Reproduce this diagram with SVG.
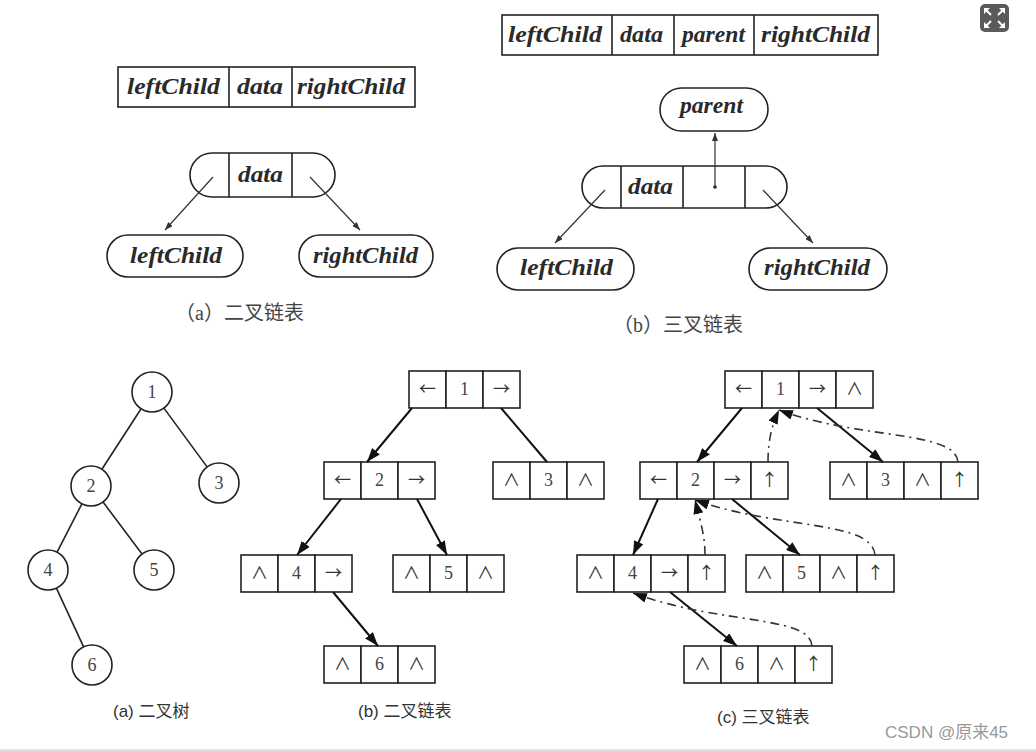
<svg xmlns="http://www.w3.org/2000/svg" width="1036" height="751" viewBox="0 0 1036 751">
<style>
.it{font-family:"Liberation Serif","DejaVu Serif",serif;font-style:italic;font-weight:bold;font-size:24px;fill:#2a2a2a}
.box{fill:#fff;stroke:#222;stroke-width:1.6}
.dv{stroke:#222;stroke-width:1.6}
.thin{stroke:#333;stroke-width:1.2;fill:none}
.sol{stroke:#111;stroke-width:2;fill:none}
.dd{stroke:#333;stroke-width:1.6;fill:none;stroke-dasharray:9 5 2 5}
.cell{fill:#fff;stroke:#222;stroke-width:1.6}
.ct{font-family:"Liberation Serif","DejaVu Serif",serif;font-size:18px;fill:#444;text-anchor:middle}
.ar{font-family:"Noto Sans CJK SC","DejaVu Sans",sans-serif;font-size:17px;fill:#333;text-anchor:middle}
.circ{fill:#fff;stroke:#222;stroke-width:1.6}
.edge{stroke:#222;stroke-width:1.6}
.capt{font-family:"Liberation Serif","Noto Sans CJK SC",serif;font-size:20px;fill:#444}
.capb{font-family:"Liberation Sans","Noto Sans CJK SC",sans-serif;font-size:17px;fill:#333}
</style>
<defs>
<marker id="big" viewBox="0 0 14 10" refX="14" refY="5" markerWidth="14" markerHeight="10" markerUnits="userSpaceOnUse" orient="auto"><path d="M0,0 L14,5 L0,10 z" fill="#111"/></marker>
<marker id="sm" viewBox="0 0 8 6" refX="8" refY="3" markerWidth="8" markerHeight="6" markerUnits="userSpaceOnUse" orient="auto"><path d="M0,0 L8,3 L0,6 z" fill="#333"/></marker>
</defs>
<rect width="1036" height="751" fill="#fff"/>
<rect x="0" y="749" width="1036" height="2" fill="#e4e4e4"/>

<!-- expand icon -->
<g id="icon">
<rect x="980" y="4" width="29" height="28" rx="5" fill="#5a5a5a"/>
<g fill="#fff"><polygon points="984,8 990,8 984,14"/><polygon points="1005,8 999,8 1005,14"/><polygon points="984,28 990,28 984,22"/><polygon points="1005,28 999,28 1005,22"/></g>
<g stroke="#fff" stroke-width="2"><line x1="986" y1="10" x2="991" y2="15"/><line x1="1003" y1="10" x2="998" y2="15"/><line x1="986" y1="26" x2="991" y2="21"/><line x1="1003" y1="26" x2="998" y2="21"/></g>
</g>

<!-- top-left (a) -->
<g id="tableA">
<rect class="box" x="118" y="67" width="297" height="40"/>
<line class="dv" x1="229" y1="67" x2="229" y2="107"/>
<line class="dv" x1="292" y1="67" x2="292" y2="107"/>
<text class="it" x="127" y="94" textLength="93" lengthAdjust="spacingAndGlyphs">leftChild</text>
<text class="it" x="237" y="94" textLength="46" lengthAdjust="spacingAndGlyphs">data</text>
<text class="it" x="297" y="94" textLength="108" lengthAdjust="spacingAndGlyphs">rightChild</text>
</g>
<g id="nodeA">
<rect class="box" x="190" y="153" width="145" height="44" rx="22"/>
<line class="dv" x1="229" y1="153" x2="229" y2="197"/>
<line class="dv" x1="292" y1="153" x2="292" y2="197"/>
<text class="it" x="238" y="182" textLength="45" lengthAdjust="spacingAndGlyphs">data</text>
</g>
<g id="leftA">
<rect class="box" x="107" y="235" width="136" height="42" rx="21"/>
<text class="it" x="130" y="263" textLength="92" lengthAdjust="spacingAndGlyphs">leftChild</text>
</g>
<g id="rightA">
<rect class="box" x="299" y="235" width="134" height="42" rx="21"/>
<text class="it" x="313" y="263" textLength="105" lengthAdjust="spacingAndGlyphs">rightChild</text>
</g>
<text class="capt" x="175" y="320">（a）二叉链表</text>

<!-- top-right (b) -->
<g id="tableB">
<rect class="box" x="502" y="15" width="376" height="40"/>
<line class="dv" x1="612" y1="15" x2="612" y2="55"/>
<line class="dv" x1="674" y1="15" x2="674" y2="55"/>
<line class="dv" x1="754" y1="15" x2="754" y2="55"/>
<text class="it" x="508" y="42" textLength="94" lengthAdjust="spacingAndGlyphs">leftChild</text>
<text class="it" x="620" y="42" textLength="43" lengthAdjust="spacingAndGlyphs">data</text>
<text class="it" x="682" y="42" textLength="63" lengthAdjust="spacingAndGlyphs">parent</text>
<text class="it" x="761" y="42" textLength="109" lengthAdjust="spacingAndGlyphs">rightChild</text>
</g>
<g id="parentB">
<rect class="box" x="660" y="88" width="108" height="43" rx="21.5"/>
<text class="it" x="680" y="113" textLength="63" lengthAdjust="spacingAndGlyphs">parent</text>
</g>
<g id="nodeB">
<rect class="box" x="582" y="166" width="205" height="42" rx="21"/>
<line class="dv" x1="621" y1="166" x2="621" y2="208"/>
<line class="dv" x1="683" y1="166" x2="683" y2="208"/>
<line class="dv" x1="745" y1="166" x2="745" y2="208"/>
<text class="it" x="628" y="194" textLength="45" lengthAdjust="spacingAndGlyphs">data</text>
<circle cx="715" cy="187" r="1.8" fill="#222"/>
</g>
<g id="leftB">
<rect class="box" x="497" y="248" width="137" height="42" rx="21"/>
<text class="it" x="520" y="275" textLength="93" lengthAdjust="spacingAndGlyphs">leftChild</text>
</g>
<g id="rightB">
<rect class="box" x="749" y="248" width="138" height="42" rx="21"/>
<text class="it" x="764" y="275" textLength="106" lengthAdjust="spacingAndGlyphs">rightChild</text>
</g>
<text class="capt" x="613" y="332">（b）三叉链表</text>

<g id="topConnectors">
<line class="thin" x1="213" y1="177" x2="165" y2="230" marker-end="url(#sm)"/>
<line class="thin" x1="310" y1="177" x2="360" y2="230" marker-end="url(#sm)"/>
<line class="thin" x1="715" y1="187" x2="715" y2="133" marker-end="url(#sm)"/>
<line class="thin" x1="605" y1="190" x2="555" y2="243" marker-end="url(#sm)"/>
<line class="thin" x1="763" y1="190" x2="813" y2="243" marker-end="url(#sm)"/>
</g>

<!-- bottom (a) tree -->
<g id="treeEdges">
<line class="edge" x1="141.1" y1="408.8" x2="101.9" y2="469.2"/>
<line class="edge" x1="163.9" y1="408.1" x2="207.1" y2="466.9"/>
<line class="edge" x1="81.9" y1="503.8" x2="57.1" y2="552.2"/>
<line class="edge" x1="103" y1="502" x2="142" y2="554"/>
<line class="edge" x1="56.4" y1="588.1" x2="83.6" y2="646.9"/>
</g>
<g id="t1"><circle class="circ" cx="152" cy="392" r="20"/><text class="ct" x="152" y="398">1</text></g>
<g id="t2"><circle class="circ" cx="91" cy="486" r="20"/><text class="ct" x="91" y="492">2</text></g>
<g id="t3"><circle class="circ" cx="219" cy="483" r="20"/><text class="ct" x="219" y="489">3</text></g>
<g id="t4"><circle class="circ" cx="48" cy="570" r="20"/><text class="ct" x="48" y="576">4</text></g>
<g id="t5"><circle class="circ" cx="154" cy="570" r="20"/><text class="ct" x="154" y="576">5</text></g>
<g id="t6"><circle class="circ" cx="92" cy="665" r="20"/><text class="ct" x="92" y="671">6</text></g>
<text class="capb" x="113" y="717">(a) 二叉树</text>

<!-- bottom (b) binary linked list -->
<g id="b1"><rect class="cell" x="409" y="371" width="37" height="37"/><rect class="cell" x="446" y="371" width="37" height="37"/><rect class="cell" x="483" y="371" width="37" height="37"/>
<text class="ar" x="427.5" y="395">←</text><text class="ct" x="464.5" y="395">1</text><text class="ar" x="501.5" y="395">→</text></g>
<g id="b2"><rect class="cell" x="324" y="462" width="37" height="37"/><rect class="cell" x="361" y="462" width="37" height="37"/><rect class="cell" x="398" y="462" width="37" height="37"/>
<text class="ar" x="342.5" y="486">←</text><text class="ct" x="379.5" y="486">2</text><text class="ar" x="416.5" y="486">→</text></g>
<g id="b3"><rect class="cell" x="493" y="462" width="37" height="37"/><rect class="cell" x="530" y="462" width="37" height="37"/><rect class="cell" x="567" y="462" width="37" height="37"/>
<text class="ar" x="511.5" y="486">∧</text><text class="ct" x="548.5" y="486">3</text><text class="ar" x="585.5" y="486">∧</text></g>
<g id="b4"><rect class="cell" x="241" y="555" width="37" height="37"/><rect class="cell" x="278" y="555" width="37" height="37"/><rect class="cell" x="315" y="555" width="37" height="37"/>
<text class="ar" x="259.5" y="579">∧</text><text class="ct" x="296.5" y="579">4</text><text class="ar" x="333.5" y="579">→</text></g>
<g id="b5"><rect class="cell" x="393" y="555" width="37" height="37"/><rect class="cell" x="430" y="555" width="37" height="37"/><rect class="cell" x="467" y="555" width="37" height="37"/>
<text class="ar" x="411.5" y="579">∧</text><text class="ct" x="448.5" y="579">5</text><text class="ar" x="485.5" y="579">∧</text></g>
<g id="b6"><rect class="cell" x="324" y="646" width="37" height="37"/><rect class="cell" x="361" y="646" width="37" height="37"/><rect class="cell" x="398" y="646" width="37" height="37"/>
<text class="ar" x="342.5" y="670">∧</text><text class="ct" x="379.5" y="670">6</text><text class="ar" x="416.5" y="670">∧</text></g>
<g id="bConnectors">
<line class="sol" x1="412" y1="408" x2="367" y2="462" marker-end="url(#big)"/>
<line class="sol" x1="501" y1="408" x2="547" y2="462"/>
<line class="sol" x1="341" y1="499" x2="297" y2="555" marker-end="url(#big)"/>
<line class="sol" x1="417" y1="499" x2="447" y2="555" marker-end="url(#big)"/>
<line class="sol" x1="333" y1="592" x2="378" y2="646" marker-end="url(#big)"/>
</g>
<text class="capb" x="358" y="717">(b) 二叉链表</text>

<!-- bottom (c) trinary linked list -->
<g id="c1"><rect class="cell" x="725" y="371" width="37" height="37"/><rect class="cell" x="762" y="371" width="37" height="37"/><rect class="cell" x="799" y="371" width="37" height="37"/><rect class="cell" x="836" y="371" width="37" height="37"/>
<text class="ar" x="743.5" y="395">←</text><text class="ct" x="780.5" y="395">1</text><text class="ar" x="817.5" y="395">→</text><text class="ar" x="854.5" y="395">∧</text></g>
<g id="c2"><rect class="cell" x="640" y="462" width="37" height="37"/><rect class="cell" x="677" y="462" width="37" height="37"/><rect class="cell" x="714" y="462" width="37" height="37"/><rect class="cell" x="751" y="462" width="37" height="37"/>
<text class="ar" x="658.5" y="486">←</text><text class="ct" x="695.5" y="486">2</text><text class="ar" x="732.5" y="486">→</text><text class="ar" x="769.5" y="486">↑</text></g>
<g id="c3"><rect class="cell" x="830" y="462" width="37" height="37"/><rect class="cell" x="867" y="462" width="37" height="37"/><rect class="cell" x="904" y="462" width="37" height="37"/><rect class="cell" x="941" y="462" width="37" height="37"/>
<text class="ar" x="848.5" y="486">∧</text><text class="ct" x="885.5" y="486">3</text><text class="ar" x="922.5" y="486">∧</text><text class="ar" x="959.5" y="486">↑</text></g>
<g id="c4"><rect class="cell" x="577" y="555" width="37" height="37"/><rect class="cell" x="614" y="555" width="37" height="37"/><rect class="cell" x="651" y="555" width="37" height="37"/><rect class="cell" x="688" y="555" width="37" height="37"/>
<text class="ar" x="595.5" y="579">∧</text><text class="ct" x="632.5" y="579">4</text><text class="ar" x="669.5" y="579">→</text><text class="ar" x="706.5" y="579">↑</text></g>
<g id="c5"><rect class="cell" x="746" y="555" width="37" height="37"/><rect class="cell" x="783" y="555" width="37" height="37"/><rect class="cell" x="820" y="555" width="37" height="37"/><rect class="cell" x="857" y="555" width="37" height="37"/>
<text class="ar" x="764.5" y="579">∧</text><text class="ct" x="801.5" y="579">5</text><text class="ar" x="838.5" y="579">∧</text><text class="ar" x="875.5" y="579">↑</text></g>
<g id="c6"><rect class="cell" x="684" y="646" width="37" height="37"/><rect class="cell" x="721" y="646" width="37" height="37"/><rect class="cell" x="758" y="646" width="37" height="37"/><rect class="cell" x="795" y="646" width="37" height="37"/>
<text class="ar" x="702.5" y="670">∧</text><text class="ct" x="739.5" y="670">6</text><text class="ar" x="776.5" y="670">∧</text><text class="ar" x="813.5" y="670">↑</text></g>
<g id="cConnectors">
<line class="sol" x1="742" y1="408" x2="697" y2="462" marker-end="url(#big)"/>
<line class="sol" x1="817" y1="408" x2="883" y2="462" marker-end="url(#big)"/>
<line class="sol" x1="658" y1="499" x2="633" y2="555" marker-end="url(#big)"/>
<line class="sol" x1="732" y1="499" x2="800" y2="555" marker-end="url(#big)"/>
<line class="sol" x1="670" y1="592" x2="737" y2="646" marker-end="url(#big)"/>
<path class="dd" d="M768,462 C768,440 772,425 779,410" marker-end="url(#big)"/>
<path class="dd" d="M958,462 C955,430 860,440 779,410" marker-end="url(#big)"/>
<path class="dd" d="M705,555 C705,535 700,520 695,500" marker-end="url(#big)"/>
<path class="dd" d="M875,555 C872,520 780,530 695,500" marker-end="url(#big)"/>
<path class="dd" d="M812,646 C810,615 720,625 633,593" marker-end="url(#big)"/>
</g>
<text class="capb" x="717" y="723">(c) 三叉链表</text>

<text x="885" y="738" font-family="Liberation Sans, Noto Sans CJK SC, sans-serif" font-size="17" fill="#999">CSDN @原来45</text>
</svg>
